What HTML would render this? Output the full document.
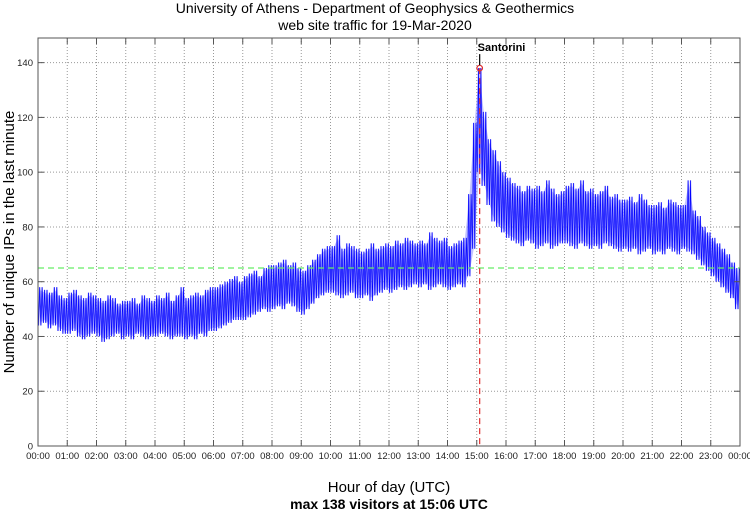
<!DOCTYPE html>
<html><head><meta charset="utf-8"><style>
html,body{margin:0;padding:0;background:#fff;}
svg{display:block;font-family:"Liberation Sans",Arial,sans-serif;}
</style></head><body>
<svg id="chart" width="750" height="511" viewBox="0 0 750 511">
<text x="375" y="13" text-anchor="middle" font-size="14">University of Athens - Department of Geophysics &amp; Geothermics</text>
<text x="375" y="30" text-anchor="middle" font-size="14">web site traffic for 19-Mar-2020</text>
<text transform="translate(14,242) rotate(-90)" text-anchor="middle" font-size="15">Number of unique IPs in the last minute</text>
<text x="389" y="492" text-anchor="middle" font-size="15">Hour of day (UTC)</text>
<text x="389" y="509" text-anchor="middle" font-size="14" font-weight="bold">max 138 visitors at 15:06 UTC</text>
<g id="grid"></g>
<g id="series"></g>
<g id="overlay"></g>
<g id="axes"></g>
</svg>
<script>
const hourLabels=["00:00","01:00","02:00","03:00","04:00","05:00","06:00","07:00","08:00","09:00","10:00","11:00","12:00","13:00","14:00","15:00","16:00","17:00","18:00","19:00","20:00","21:00","22:00","23:00","00:00"];
const yTicks=[0,20,40,60,80,100,120,140];
const binLo=[44,45,43,44,42,41, 41,42,40,39,40,41, 40,38,39,40,41,39, 40,39,41,40,39,40, 40,41,40,39,40,40, 39,40,39,41,40,42,
42,43,44,45,46,46, 46,47,48,49,50,49, 50,51,50,52,51,49, 48,50,52,54,55,56, 56,55,54,55,56,54, 54,55,53,55,56,57,
56,57,58,57,58,59, 58,59,57,58,59,58, 57,58,59,58,62,72, 100,95,88,82,80,78, 76,75,74,73,75,74, 72,73,74,72,73,74,
74,73,72,74,73,72, 73,72,74,73,72,71, 72,71,72,70,71,72, 70,71,70,72,71,70, 72,71,70,68,66,64, 62,60,58,56,54,50];
const binHi=[58,57,56,58,55,54, 56,57,55,54,56,55, 54,53,55,54,52,53, 53,54,52,55,54,53, 55,54,56,53,55,58, 54,55,56,55,57,58,
58,59,60,61,62,60, 62,63,64,62,65,66, 66,67,68,66,67,65, 64,66,68,70,72,73, 73,77,72,74,73,72, 71,72,74,72,73,74,
73,75,74,76,75,74, 75,74,78,76,75,76, 73,74,75,76,92,118, 138,122,112,108,104,100, 98,96,95,93,95,94, 95,93,97,94,92,93,
95,96,94,97,93,94, 92,93,95,91,92,90, 90,91,89,92,90,88, 88,89,87,90,89,88, 88,97,86,84,80,78, 76,74,72,70,67,65];
const peakMinute=906, peakValue=138, peakLabel="Santorini";
const averageLevel=65;

const NS="http://www.w3.org/2000/svg";
const L=38,R=740,T=38,B=446,yMax=149;
const xS=m=>L+(m/1440)*(R-L);
const yS=v=>B-(v/yMax)*(B-T);
function mk(tag,attrs,parent){const e=document.createElementNS(NS,tag);for(const k in attrs)e.setAttribute(k,attrs[k]);parent.appendChild(e);return e;}
const grid=document.getElementById('grid'),series=document.getElementById('series'),ov=document.getElementById('overlay'),axes=document.getElementById('axes');

hourLabels.forEach((lab,i)=>{
  const x=xS(i*60);
  if(i>0&&i<24){const g=mk('line',{x1:x,x2:x,y1:T,y2:B,stroke:'#999','stroke-dasharray':'1,2','stroke-width':1},grid);
  
  }
  const t1=mk('line',{x1:x,x2:x,y1:B,y2:B-6,stroke:'#555','stroke-width':1},axes);
  
  
  const t2=mk('line',{x1:x,x2:x,y1:T,y2:T+6,stroke:'#555','stroke-width':1},axes);
  
  
  const tx=mk('text',{x:x,y:B+13,'text-anchor':'middle','font-size':9.5,fill:'#222'},axes);
  tx.textContent=lab;
  
  
});
yTicks.forEach(v=>{
  const y=yS(v);
  if(v>0){const g=mk('line',{x1:L,x2:R,y1:y,y2:y,stroke:'#999','stroke-dasharray':'1,2','stroke-width':1},grid);
  
  }
  const t=mk('line',{x1:L,x2:L+6,y1:y,y2:y,stroke:'#555'},axes);
  
  
  const t2=mk('line',{x1:R,x2:R-6,y1:y,y2:y,stroke:'#555'},axes);
  
  
  const tx=mk('text',{x:L-5,y:y+3.5,'text-anchor':'end','font-size':9.5,fill:'#222'},axes);
  tx.textContent=v;
  
  
});
const frame=mk('rect',{x:L,y:T,width:R-L,height:B-T,fill:'none',stroke:'#555','stroke-width':1},axes);



const bandTop=[],bandBot=[];
binLo.forEach((lo,i)=>{
  const m=i*10+5;
  bandTop.push(xS(m).toFixed(1)+','+(yS(binHi[i])+3).toFixed(1));
  bandBot.unshift(xS(m).toFixed(1)+','+(yS(lo)-3).toFixed(1));
});
const band=mk('polygon',{points:bandTop.concat(bandBot).join(' '),fill:'#8c8cff',opacity:0.55,stroke:'none'},series);



const pts=[];
binLo.forEach((lo,i)=>{
  const m=i*10;
  const hi=binHi[i];
  pts.push(xS(m+1).toFixed(1)+','+yS(lo).toFixed(1));
  pts.push(xS(m+3.5).toFixed(1)+','+yS(hi).toFixed(1));
  pts.push(xS(m+6).toFixed(1)+','+yS(lo).toFixed(1));
  pts.push(xS(m+8.5).toFixed(1)+','+yS(hi).toFixed(1));
});
const bg=mk('polyline',{points:pts.join(' '),fill:'none',stroke:'#6a6aff','stroke-width':1.2},series);


const ln=mk('polyline',{points:pts.join(' '),fill:'none',stroke:'#0000ff','stroke-width':0.6},series);



const avg=mk('line',{x1:L,x2:R,y1:yS(averageLevel),y2:yS(averageLevel),stroke:'#66ee66','stroke-dasharray':'6,4','stroke-width':1.2},ov);


const px=xS(peakMinute);
const pl=mk('line',{x1:px,x2:px,y1:yS(peakValue),y2:B,stroke:'#e03030','stroke-dasharray':'6,4','stroke-width':1.2},ov);


const pm=mk('circle',{cx:px,cy:yS(peakValue),r:2.8,fill:'none',stroke:'#e03030','stroke-width':1.2},ov);


const ar=mk('line',{x1:px,x2:px,y1:yS(peakValue)-14,y2:yS(peakValue)-3,stroke:'#000','stroke-width':1.2},ov);


const pt=mk('text',{x:px-2,y:yS(peakValue)-17,'font-size':11,'font-weight':'bold'},ov);
pt.textContent=peakLabel;


</script>
</body></html>
